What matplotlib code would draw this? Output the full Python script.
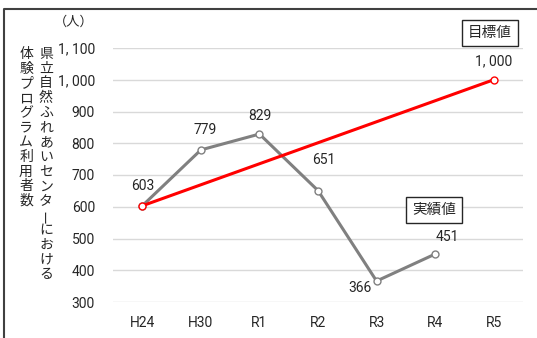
import matplotlib.pyplot as plt
from matplotlib.lines import Line2D

# 年度ごとの利用者数
years = ['H24', 'H30', 'R1', 'R2', 'R3', 'R4', 'R5']
actual = [603, 779, 829, 651, 366, 451]          # 実績値 (H24〜R4)
target_x = ['H24', 'R5']
target = [603, 1000]                             # 目標値
y_ticks = [300, 400, 500, 600, 700, 800, 900, 1000, 1100]

W, H = 537, 338
num_font = ['Roboto', 'DejaVu Sans']
jp_font = ['Noto Sans CJK JP', 'DejaVu Sans']
txt_col = '#262626'
fs = 10

fig = plt.figure(figsize=(W / 100, H / 100), dpi=100)
ax = fig.add_axes([113 / W, 1 - 302 / H, 410 / W, 254 / H])

xpos = {y: i for i, y in enumerate(years)}
ax_x = [xpos[y] for y in years[:len(actual)]]
tx = [xpos[y] for y in target_x]

ax.plot(ax_x, actual, color='#808080', lw=2.2, marker='o', ms=5,
        mfc='white', mec='#808080', mew=1, zorder=3)
ax.plot(tx, target, color='#ff0000', lw=2.2, marker='o', ms=5,
        mfc='white', mec='#ff0000', mew=1, zorder=4)

def fmt(v):
    return '{:,}'.format(v).replace(',', ', ')

ax.set_xlim(-0.5, len(years) - 0.5)
ax.set_ylim(300, 1100)
ax.set_yticks(y_ticks)
ax.set_yticklabels([fmt(v) for v in y_ticks], family=num_font,
                   fontsize=fs, color=txt_col)
ax.set_xticks(range(len(years)))
ax.set_xticklabels(years, family=num_font, fontsize=fs, color=txt_col)
ax.tick_params(axis='y', length=0, pad=13)
ax.tick_params(axis='x', length=0, pad=10)
ax.grid(axis='y', color='#d9d9d9', lw=1)
ax.set_axisbelow(True)
for s in ax.spines.values():
    s.set_visible(False)

# データラベル
offsets = [(0, 14), (3, 14), (0, 13), (4, 22), (-12, -5), (9, 12)]
for x, v, off in zip(ax_x, actual, offsets):
    ax.annotate(str(v), (x, v), xytext=off, textcoords='offset points',
                ha='center', va='center', family=num_font, fontsize=fs,
                color=txt_col)
ax.annotate(fmt(target[-1]), (tx[-1], target[-1]), xytext=(0, 13),
            textcoords='offset points', ha='center', va='center',
            family=num_font, fontsize=fs, color=txt_col)

# 凡例代わりの枠付きラベル
box = dict(boxstyle='square,pad=0.4', fc='white', ec=txt_col, lw=1)
fig.text(490 / W, 1 - 33 / H, '目標値', family=jp_font, fontsize=10.5,
         ha='center', va='center', bbox=box, color=txt_col)
fig.text(434 / W, 1 - 210 / H, '実績値', family=jp_font, fontsize=10.5,
         ha='center', va='center', bbox=box, color=txt_col)

# 単位
fig.text(74 / W, 1 - 22 / H, '（人）', family=jp_font, fontsize=9.5,
         ha='center', va='center', color=txt_col)

# 縦書きの軸タイトル
def vertical_text(x, y0, s, step=14.7):
    for i, ch in enumerate(s):
        rot = 90 if ch == 'ー' else 0
        fig.text(x / W, 1 - (y0 + i * step) / H, ch, family=jp_font,
                 fontsize=10, ha='center', va='center', rotation=rot,
                 color=txt_col)

vertical_text(46, 54, '県立自然ふれあいセンターにおける')
vertical_text(26, 54, '体験プログラム利用者数')

# 外枠（左・上）
fig.add_artist(Line2D([4 / W, 4 / W, 1], [0, 1 - 9 / H, 1 - 9 / H],
                      transform=fig.transFigure, color='#404040', lw=1.5))

fig.savefig('out.png', dpi=100)
